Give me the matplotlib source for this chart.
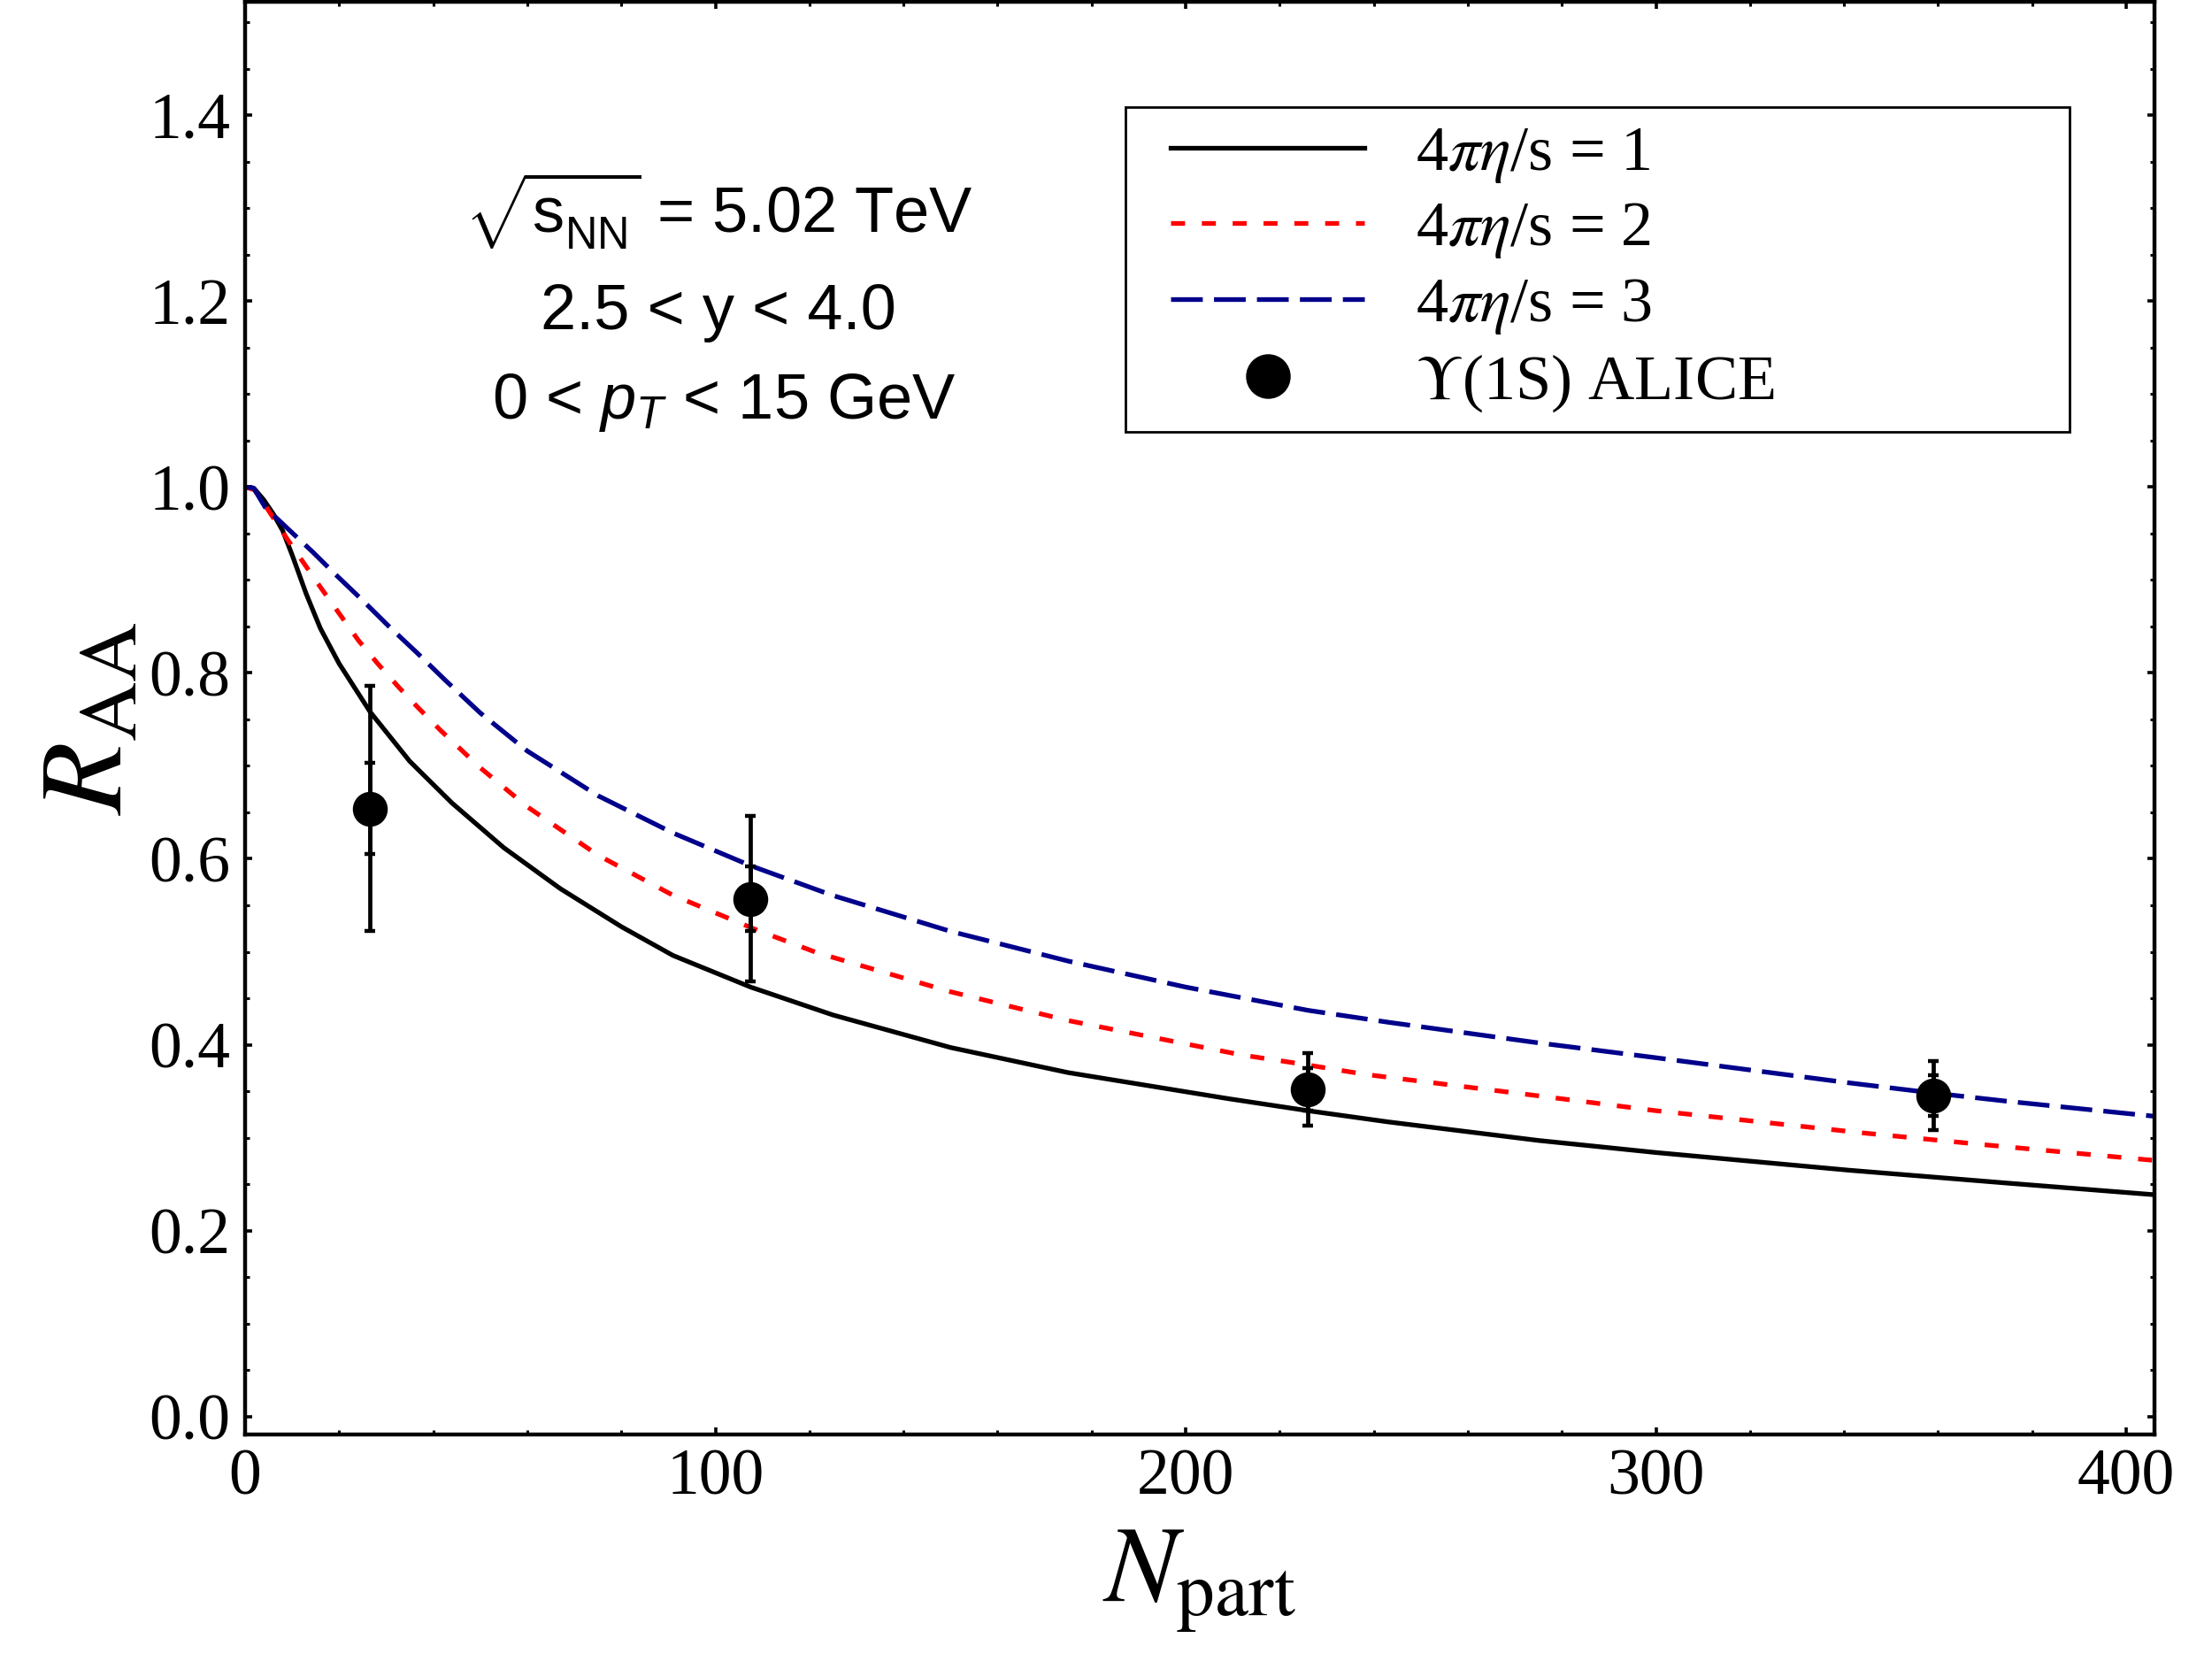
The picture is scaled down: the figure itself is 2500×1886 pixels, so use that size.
"""R_AA vs N_part for Upsilon(1S): viscous hydro curves vs ALICE data."""

import matplotlib

matplotlib.use("Agg")
import matplotlib.pyplot as plt
from matplotlib.font_manager import FontProperties
from matplotlib.legend_handler import HandlerLine2D
from matplotlib.lines import Line2D
from matplotlib.ticker import FormatStrFormatter, MultipleLocator

# --- theory curves, 4 pi eta/s = 1, 2, 3 ---
npart_1 = [0, 2, 4, 6, 8, 10, 13, 16, 20, 26.6, 35, 44, 55, 67, 80, 91, 107.5,
           125, 150, 175, 209, 226, 243, 275, 300, 341, 375, 406]
raa_1 = [1.0, 0.998, 0.986, 0.971, 0.953, 0.927, 0.885, 0.848, 0.810, 0.758,
         0.705, 0.660, 0.612, 0.568, 0.527, 0.496, 0.462, 0.432, 0.397, 0.370,
         0.342, 0.329, 0.317, 0.297, 0.284, 0.265, 0.251, 0.2386]

npart_2 = [0, 2, 4.3, 8.7, 12.5, 16.2, 20, 24.1, 28.2, 32.6, 36.9, 41.6, 50, 60,
           75, 90.9, 109, 121.6, 150, 175, 211.9, 225, 238.3, 275, 300, 344.2,
           370.6, 406]
raa_2 = [1.0, 0.997, 0.98, 0.946, 0.918, 0.891, 0.864, 0.835, 0.810, 0.785,
         0.762, 0.738, 0.698, 0.656, 0.604, 0.561, 0.523, 0.499, 0.457, 0.426,
         0.389, 0.379, 0.368, 0.345, 0.329, 0.305, 0.292, 0.2755]

npart_3 = [0, 1.8, 4.3, 8.7, 14.4, 18.8, 25, 30.6, 36.9, 42.6, 50, 60, 75, 90.9,
           107.5, 124.7, 150, 175, 200, 226, 243.3, 275, 300, 341, 359, 375, 406]
raa_3 = [1.0, 0.999, 0.978, 0.957, 0.930, 0.908, 0.878, 0.850, 0.820, 0.792,
         0.757, 0.716, 0.668, 0.628, 0.5926, 0.561, 0.522, 0.490, 0.462, 0.437,
         0.424, 0.402, 0.386, 0.359, 0.348, 0.339, 0.323]

# --- ALICE Upsilon(1S) data ---
alice_npart = [26.6, 107.5, 226.0, 359.0]
alice_raa = [0.654, 0.557, 0.352, 0.345]
alice_stat = [0.049, 0.035, 0.023, 0.022]
alice_tot = [0.132, 0.089, 0.039, 0.037]

curve_labels = [r"4$\pi\eta$/s = 1", r"4$\pi\eta$/s = 2", r"4$\pi\eta$/s = 3"]
data_label = r"$\Upsilon$(1S) ALICE"

plt.rcParams.update(
    {
        "font.family": "Liberation Serif",
        "mathtext.fontset": "custom",
        "mathtext.rm": "Liberation Sans",
        "mathtext.it": "Liberation Sans:italic",
        "mathtext.bf": "Liberation Sans:bold",
        "axes.linewidth": 1.6,
    }
)

fig = plt.figure(figsize=(12.5, 9.43), dpi=200)
ax = fig.add_axes([0.1108, 0.1407, 0.8632, 0.8582])

lw = 1.9
ax.plot(npart_1, raa_1, color="black", lw=lw, label=curve_labels[0])
ax.plot(npart_2, raa_2, color="#ff0000", lw=lw, dashes=(3, 3.6), label=curve_labels[1])
ax.plot(npart_3, raa_3, color="#00008b", lw=lw, dashes=(6.8, 2.4), label=curve_labels[2])

ax.errorbar(alice_npart, alice_raa, yerr=alice_tot, fmt="none", ecolor="black",
            elinewidth=1.7, capsize=2.2, capthick=1.6, zorder=4)
ax.errorbar(alice_npart, alice_raa, yerr=alice_stat, fmt="none", ecolor="black",
            elinewidth=1.7, capsize=2.2, capthick=1.6, zorder=4)
ax.plot(alice_npart, alice_raa, "o", color="black", ms=13.2, zorder=5, label=data_label)

ax.set_xlim(0, 406)
ax.set_ylim(-0.019, 1.522)
ax.xaxis.set_major_locator(MultipleLocator(100))
ax.xaxis.set_minor_locator(MultipleLocator(20))
ax.yaxis.set_major_locator(MultipleLocator(0.2))
ax.yaxis.set_minor_locator(MultipleLocator(0.05))
ax.yaxis.set_major_formatter(FormatStrFormatter("%.1f"))
ax.tick_params(which="both", direction="in", top=True, right=True, labelsize=26.5)
ax.tick_params(which="major", length=3.0, width=1.3, pad=6)
ax.tick_params(which="minor", length=1.8, width=1.1)

ax.set_ylabel(r"$R_{\mathrm{AA}}$", labelpad=1,
              fontproperties=FontProperties(family="Liberation Serif", size=48,
                                            math_fontfamily="stix"))
ax.set_xlabel(r"$N_{\mathrm{part}}$", labelpad=8,
              fontproperties=FontProperties(family="Liberation Serif", size=44,
                                            math_fontfamily="stix"))

sans = dict(family="Liberation Sans", fontsize=26, ha="center", va="center",
            transform=ax.transAxes)
ax.text(0.248, 0.854, r"$\sqrt{\mathrm{s}_{\mathrm{NN}}^{\ }}$ = 5.02 TeV", **sans)
ax.text(0.248, 0.783, "2.5 < y < 4.0", **sans)
ax.text(0.251, 0.720, r"0 < $p_T$ < 15 GeV", **sans)

leg = ax.legend(
    loc="upper left",
    bbox_to_anchor=(0.461, 0.9265, 0.4945, 0.0),
    mode="expand",
    prop=FontProperties(family="Liberation Serif", size=26, math_fontfamily="stix"),
    frameon=True,
    fancybox=False,
    edgecolor="black",
    framealpha=1,
    borderaxespad=0,
    borderpad=0.28,
    handlelength=3.46,
    handletextpad=0.8,
    labelspacing=0.25,
    markerscale=1.3,
    handler_map={Line2D: HandlerLine2D(xpad=0.43)},
)
leg.get_frame().set_linewidth(1.0)

fig.savefig("out.png", dpi=200)
